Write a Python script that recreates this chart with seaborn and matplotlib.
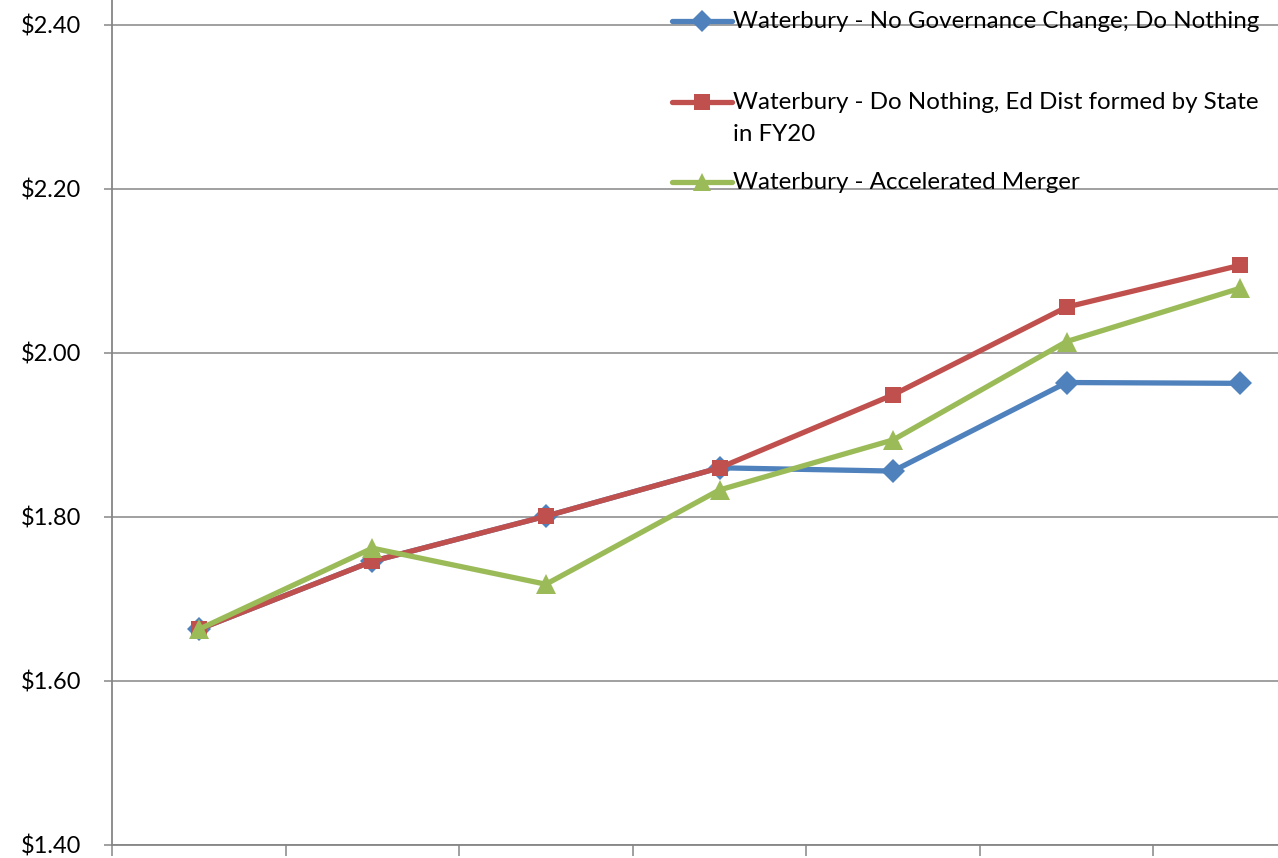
import matplotlib
matplotlib.use("Agg")
import matplotlib.pyplot as plt
from matplotlib.lines import Line2D
from matplotlib.ticker import FixedLocator, FuncFormatter
import seaborn as sns
import pandas as pd

# Fiscal years on the horizontal axis
years = ["FY15", "FY16", "FY17", "FY18", "FY19", "FY20", "FY21"]

# Tax rate per scenario
no_change = [1.663, 1.746, 1.801, 1.860, 1.856, 1.964, 1.963]
state_district = [1.663, 1.746, 1.801, 1.860, 1.949, 2.056, 2.107]
accelerated = [1.663, 1.762, 1.718, 1.833, 1.894, 2.014, 2.079]

series_names = [
    "Waterbury - No Governance Change; Do Nothing",
    "Waterbury - Do Nothing, Ed Dist formed by State\nin FY20",
    "Waterbury - Accelerated Merger",
]
series_values = [no_change, state_district, accelerated]
colors = ["#4F81BD", "#C0504D", "#9BBB59"]
markers = ["D", "s", "^"]
msizes = [12, 12, 14]

sns.set_theme(style="white")
plt.rcParams["font.family"] = ["Lato", "DejaVu Sans"]

W, H = 1278, 858
fig = plt.figure(figsize=(W / 100, H / 100), dpi=100)

# axes reach past the right and top edges of the canvas
ax_left, ax_right = 112, 1327
ax_bottom_px = 845
ymin, ymax = 1.40, 2.45
px_per_unit = 820
ax_top_px = ax_bottom_px - (ymax - ymin) * px_per_unit
ax = fig.add_axes([ax_left / W, (H - ax_bottom_px) / H,
                   (ax_right - ax_left) / W, (ax_bottom_px - ax_top_px) / H])

frames = []
for name, vals in zip(series_names, series_values):
    frames.append(pd.DataFrame({"x": range(len(years)), "year": years,
                                "rate": vals, "series": name}))
df = pd.concat(frames, ignore_index=True)

for name, c, m, ms in zip(series_names, colors, markers, msizes):
    sns.lineplot(data=df[df["series"] == name], x="x", y="rate", ax=ax,
                 color=c, marker=m, markersize=ms, markeredgewidth=0,
                 linewidth=3.8, legend=False, zorder=3)

grid_c = "#868686"
ax.set_xlim(-0.5, len(years) - 0.5)
ax.set_ylim(ymin, ymax)
ax.yaxis.set_major_locator(FixedLocator([1.4, 1.6, 1.8, 2.0, 2.2, 2.4]))
ax.yaxis.set_major_formatter(FuncFormatter(lambda v, p: f"${v:.2f}"))
ax.xaxis.set_major_locator(FixedLocator([i + 0.5 for i in range(-1, len(years))]))
ax.xaxis.set_ticklabels([])
ax.grid(axis="y", color=grid_c, linewidth=1.1, zorder=0)
ax.grid(axis="x", visible=False)
for side in ["top", "right"]:
    ax.spines[side].set_visible(False)
for side in ["left", "bottom"]:
    ax.spines[side].set_color(grid_c)
    ax.spines[side].set_linewidth(1.3)
ax.tick_params(axis="y", which="major", left=True, length=6, width=1.1,
               color=grid_c, labelsize=17, pad=16, labelcolor="black")
ax.tick_params(axis="x", which="major", bottom=True, length=8, width=1.1,
               color=grid_c)
ax.set_xlabel("")
ax.set_ylabel("")

# legend entries drawn in pixel coordinates
def fx(px):
    return px / W

def fy(py):
    return 1 - py / H

entry_rows = [21, 102, 182]
line_step = 32
for name, c, m, ms, row in zip(series_names, colors, markers, msizes, entry_rows):
    fig.add_artist(Line2D([fx(672), fx(732)], [fy(row), fy(row)], color=c,
                          linewidth=3.8, solid_capstyle="round",
                          transform=fig.transFigure, zorder=5))
    fig.add_artist(Line2D([fx(702)], [fy(row)], color=c, marker=m,
                          markersize=ms - 1, markeredgewidth=0,
                          transform=fig.transFigure, zorder=6))
    for k, part in enumerate(name.split("\n")):
        fig.text(fx(733), fy(row + 7 + k * line_step), part, fontsize=17.4,
                 ha="left", va="baseline", color="black",
                 transform=fig.transFigure, zorder=6)

fig.savefig("out.png", dpi=100)
